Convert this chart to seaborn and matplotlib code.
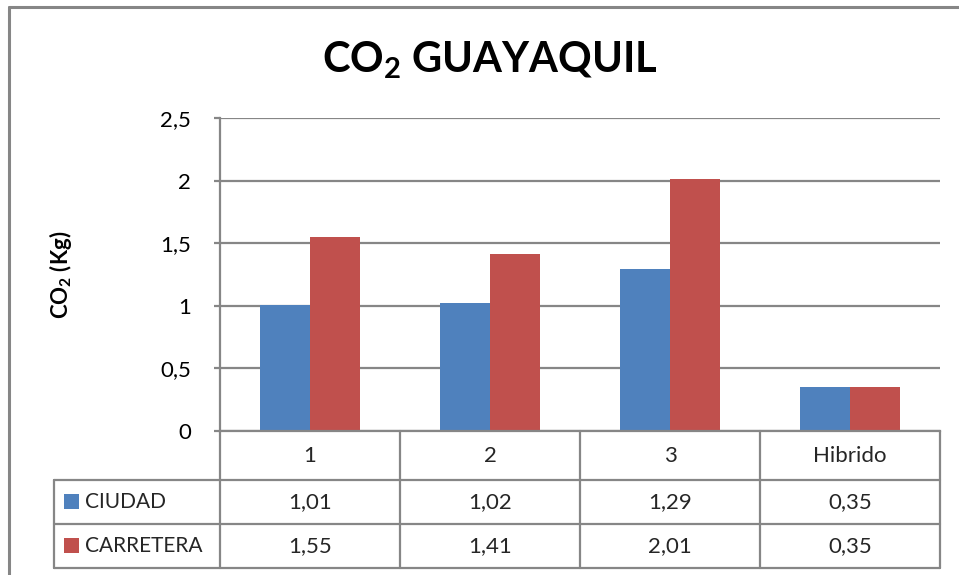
import matplotlib
matplotlib.use("Agg")
import matplotlib.pyplot as plt
from matplotlib.lines import Line2D
from matplotlib.patches import Rectangle
from matplotlib.transforms import blended_transform_factory
import seaborn as sns
import pandas as pd

# Data
categories = ["1", "2", "3", "Hibrido"]
series_names = ["CIUDAD", "CARRETERA"]
ciudad = [1.01, 1.02, 1.29, 0.35]
carretera = [1.55, 1.41, 2.01, 0.35]
y_ticks = [0, 0.5, 1, 1.5, 2, 2.5]
y_tick_labels = ["0", "0,5", "1", "1,5", "2", "2,5"]
colors = ["#4F81BD", "#C0504D"]
grid_color = "#868686"

df = pd.DataFrame({
    "categoria": categories * 2,
    "serie": [series_names[0]] * len(categories) + [series_names[1]] * len(categories),
    "valor": ciudad + carretera,
})

sns.set_theme(style="white")
plt.rcParams["font.family"] = ["Lato", "DejaVu Sans"]
plt.rcParams["mathtext.fontset"] = "custom"
plt.rcParams["mathtext.rm"] = "Lato"
plt.rcParams["mathtext.bf"] = "Lato:bold"

W, H = 959, 575
fig = plt.figure(figsize=(W / 100, H / 100), dpi=100)


def fx(x):
    return x / W


def fy(y):
    return 1 - y / H


# plot area
left, right, top, bottom = 220, 940, 118, 431
ax = fig.add_axes([fx(left), fy(bottom), fx(right) - fx(left), fy(top) - fy(bottom)])

sns.barplot(data=df, x="categoria", y="valor", hue="serie", order=categories,
            hue_order=series_names, palette=colors, width=0.556, gap=0,
            saturation=1, ax=ax, legend=False, linewidth=0)

ax.set_xlim(-0.5, len(categories) - 0.5)
ax.set_ylim(0, 2.5)
ax.set_yticks(y_ticks)
ax.set_yticklabels(y_tick_labels, fontsize=16, color="black")
ax.set_xticks([])
ax.set_xlabel("")
ax.set_ylabel("")
ax.yaxis.grid(True, color=grid_color, linewidth=1.6)
ax.set_axisbelow(True)
ax.tick_params(axis="y", length=4, width=1.6, color=grid_color, pad=17, left=True)
for side in ["top", "right"]:
    ax.spines[side].set_visible(False)
for side in ["left", "bottom"]:
    ax.spines[side].set_color(grid_color)
    ax.spines[side].set_linewidth(1.6)

# title and axis label
fig.text(fx(490), fy(60), r"CO$_\mathbf{2}$ GUAYAQUIL", ha="center", va="center",
         fontsize=30, fontweight="bold", color="black")
fig.text(fx(61), fy(275), r"CO$_\mathbf{2}$ (Kg)", ha="center", va="center",
         rotation=90, fontsize=16, fontweight="bold", color="black")

# outer chart border
fig.add_artist(Line2D([fx(9), fx(9)], [fy(575), fy(7)], color=grid_color, lw=2.2,
                      transform=fig.transFigure))
fig.add_artist(Line2D([fx(9), fx(959)], [fy(7), fy(7)], color=grid_color, lw=2.2,
                      transform=fig.transFigure))

# data table
tr = blended_transform_factory(ax.transData, fig.transFigure)
row_tops = [431, 480, 524, 568]
tbl_left = 54
lw = 1.6

for y in row_tops[1:]:
    fig.add_artist(Line2D([fx(tbl_left), fx(right)], [fy(y), fy(y)], color=grid_color,
                          lw=lw, transform=fig.transFigure))
fig.add_artist(Line2D([fx(tbl_left), fx(tbl_left)], [fy(row_tops[1]), fy(row_tops[3])],
                      color=grid_color, lw=lw, transform=fig.transFigure))
for b in [i - 0.5 for i in range(len(categories) + 1)]:
    fig.add_artist(Line2D([b, b], [fy(row_tops[0]), fy(row_tops[3])], color=grid_color,
                          lw=lw, transform=tr))

for i, cat in enumerate(categories):
    fig.text(i, fy((row_tops[0] + row_tops[1]) / 2), cat, transform=tr,
             ha="center", va="center", fontsize=16)
    for r, vals in enumerate([ciudad, carretera]):
        yc = (row_tops[r + 1] + row_tops[r + 2]) / 2
        fig.text(i, fy(yc), f"{vals[i]:.2f}".replace(".", ","), transform=tr,
                 ha="center", va="center", fontsize=16)

for r, name in enumerate(series_names):
    yc = (row_tops[r + 1] + row_tops[r + 2]) / 2
    fig.add_artist(Rectangle((fx(64), fy(yc + 7)), fx(15), fy(0) - fy(15),
                             facecolor=colors[r], edgecolor="none",
                             transform=fig.transFigure))
    fig.text(fx(85), fy(yc), name, ha="left", va="center", fontsize=15)

fig.savefig("out.png", dpi=100)
